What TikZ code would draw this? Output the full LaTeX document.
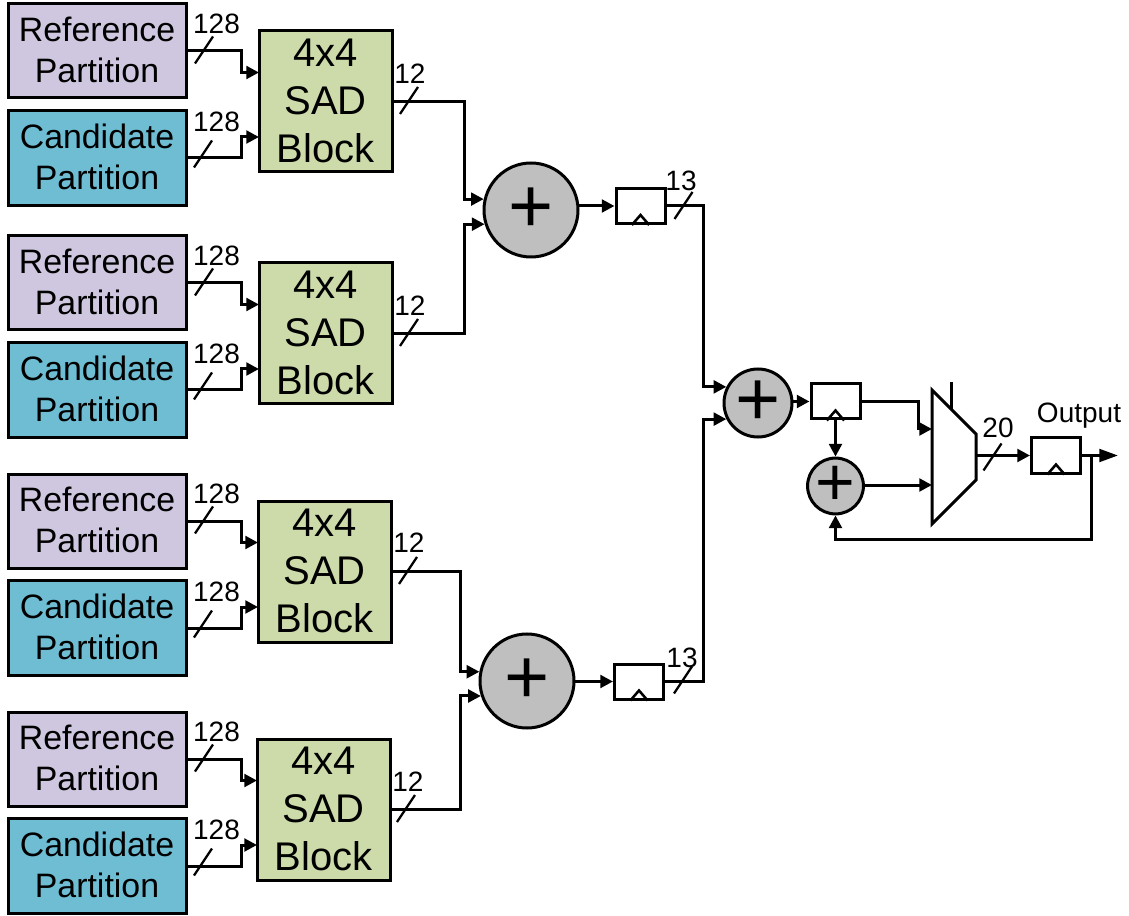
\documentclass[tikz,border=0pt]{standalone}
\usepackage{fontspec}
\setmainfont{Liberation Sans}
\usetikzlibrary{arrows.meta,calc}
\definecolor{refc}{HTML}{CFC7DF}
\definecolor{canc}{HTML}{6EBDD3}
\definecolor{sadc}{HTML}{CCDBA9}
\definecolor{addc}{HTML}{BFBFBF}
\newlength{\pxu}\setlength{\pxu}{0.75pt}
\tikzset{
  wire/.style={line width=2.25pt,line join=miter,-{Triangle[length=9.5pt,width=9.5pt]}},
  longwire/.style={line width=2.25pt,line join=miter,-{Triangle[length=14pt,width=9.5pt]}},
  plainwire/.style={line width=2.25pt,line join=miter},
  slash/.style={line width=1.7pt},
  boxbase/.style={draw=black,line width=2.25pt,inner sep=0pt,align=center},
  refbox/.style={boxbase,fill=refc,minimum width=178\pxu,minimum height=94\pxu,font=\fontsize{25.4}{30.8}\selectfont},
  canbox/.style={boxbase,fill=canc,minimum width=178\pxu,minimum height=95\pxu,font=\fontsize{25.4}{30.8}\selectfont},
  sadbox/.style={boxbase,fill=sadc,minimum width=133\pxu,minimum height=141\pxu,font=\fontsize{30}{36}\selectfont},
  adder/.style={boxbase,circle,fill=addc,minimum size=#1\pxu},
  regbox/.style={boxbase,minimum width=49\pxu,minimum height=35\pxu},
  wedge/.style={line width=1.9pt,line join=miter},
  buslab/.style={inner sep=0pt,font=\fontsize{21}{24}\selectfont},
}
% bus slash centred at the given point, with its label
\newcommand{\busmark}[6]{%
  \coordinate (#1a) at (#2-9,#3+13.5);
  \coordinate (#1b) at (#2+9,#3-13.5);
  \draw[slash] (#1a) -- (#1b);
  \node[buslab] (#1t) at (#4,#5) {#6};
}
% name, x centre, y centre: register with clock wedge
\newcommand{\regnode}[3]{%
  \node[regbox] (#1) at (#2,#3) {};
  \draw[wedge] ([xshift=-6.5pt]#1.south) -- ([yshift=7.5pt]#1.south) -- ([xshift=6.5pt]#1.south);
}
% invisible extra depth on a last line lifts the centred text a little
\newcommand{\lift}[1]{\rule[-#1]{0pt}{0pt}}
% id, y top of reference box, x centre of SAD block
\newcommand{\sadgroup}[3]{%
  \node[refbox] (r#1) at (97,#2+47) {Reference\\Partition\lift{2pt}};
  \node[canbox] (c#1) at (97,#2+154) {Candidate\\Partition\lift{2.6pt}};
  \node[sadbox] (s#1) at (#3,#2+97.5) {4x4\\SAD\\Block\lift{1.5pt}};
  \coordinate (ra#1) at (241,#2+47);
  \coordinate (ca#1) at (241,#2+154);
  \coordinate (ri#1) at (#3-66.5,#2+68.5);
  \coordinate (ci#1) at (#3-66.5,#2+133);
  \draw[wire] (r#1.east) -- (ra#1) |- (ri#1);
  \draw[wire] (c#1.east) -- (ca#1) |- (ci#1);
  \busmark{br#1}{204}{#2+46}{216.5}{#2+20}{128}
  \busmark{bc#1}{203}{#2+150}{216.5}{#2+118}{128}
}
\begin{document}
\begin{tikzpicture}[x=0.75pt,y=-0.75pt]
\useasboundingbox (0,0) rectangle (1129,916);
\sadgroup{1}{4}{325.5}
\sadgroup{2}{236}{325.5}
\sadgroup{3}{474}{324.5}
\sadgroup{4}{712}{323.5}
% pipeline registers
\regnode{f1}{640.5}{206}
\regnode{f2}{639}{681.5}
\draw[wire] (531,206) -- (f1.west);
\draw[wire] (527,681.5) -- (f2.west);
% first-level adders
\node[adder=94,font=\fontsize{58}{58}\selectfont] (a1) at (531,210) {\raisebox{-1.5pt}{+}};
\node[adder=94,font=\fontsize{58}{58}\selectfont] (a2) at (527,681) {\raisebox{-1.5pt}{+}};
\coordinate (j1) at (464,101.5);
\coordinate (j2) at (464,333.5);
\coordinate (j3) at (460,571.5);
\coordinate (j4) at (460,809.5);
\draw[wire] (s1.east) -- (j1) |- (a1.167);
\draw[wire] (s2.east) -- (j2) |- (a1.197);
\draw[wire] (s3.east) -- (j3) |- (a2.169);
\draw[wire] (s4.east) -- (j4) |- (a2.198);
\busmark{o1}{409}{100.5}{410}{74}{12}
\busmark{o2}{409}{332.5}{410}{306}{12}
\busmark{o3}{408}{570.5}{409}{543}{12}
\busmark{o4}{406}{808.5}{408}{782}{12}
% second-level adder
\regnode{f3}{835.5}{401.5}
\draw[wire] (758,401.5) -- (f3.west);
\node[adder=68,font=\fontsize{58}{58}\selectfont] (a3) at (758,403) {\raisebox{-1pt}{+}};
\coordinate (j5) at (703.5,206);
\coordinate (j6) at (703.5,681.5);
\draw[wire] (f1.east) -- (j5) |- (a3.153);
\draw[wire] (f2.east) -- (j6) |- (a3.207);
\busmark{o5}{683.5}{205.5}{681}{181}{13}
\busmark{o6}{683}{680}{682}{658}{13}
% accumulator
\node[adder=54,font=\fontsize{51}{51}\selectfont] (a4) at (835.5,486) {+};
\regnode{f4}{1056}{455.5}
\coordinate (m1) at (932,390);
\coordinate (m2) at (976,434);
\coordinate (m3) at (976,480);
\coordinate (m4) at (932,524);
\coordinate (mi1) at (932,429);
\coordinate (mi2) at (932,485);
\coordinate (mo) at (976,455.5);
\coordinate (mc) at (951,409);
\coordinate (mct) at (951,382);
\coordinate (j7) at (918,401.5);
\coordinate (tip) at (1118,455.5);
\coordinate (j8) at (1091,455.5);
\coordinate (j9) at (1091,539);
\coordinate (a4b) at (835.5,539);
\draw[plainwire] (mct) -- (mc);
\draw[line width=2.25pt,line join=miter,fill=white] (m1) -- (m2) -- (m3) -- (m4) -- cycle;
\draw[wire] (f3.east) -- (j7) |- (mi1);
\draw[wire] (f3.south) -- (a4.north);
\draw[wire] (a4.east |- mi2) -- (mi2);
\draw[wire] (mo) -- (f4.west);
\draw[longwire] (f4.east) -- (tip);
\draw[wire] (j8) -- (j9) -- (a4b) -- (a4.south);
\busmark{o7}{992.5}{457}{998}{428}{20}
\node[buslab] (outl) at (1079,416) {Output};
\end{tikzpicture}
\end{document}
